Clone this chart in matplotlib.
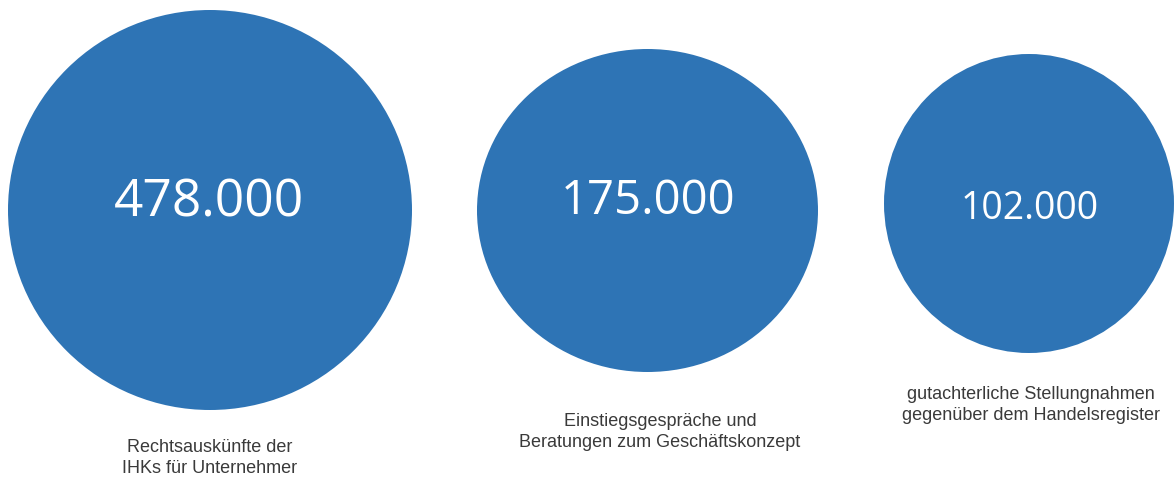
import matplotlib.pyplot as plt
from matplotlib.patches import Ellipse

# data
values = [478000, 175000, 102000]
labels = ["Rechtsauskünfte der\nIHKs für Unternehmer",
          "Einstiegsgespräche und\nBeratungen zum Geschäftskonzept",
          "gutachterliche Stellungnahmen\ngegenüber dem Handelsregister"]

# layout in pixel coords (x, y, width, height)
bubbles = [(210, 211, 404, 400), (647.5, 211.5, 341, 323), (1029, 204.5, 290, 299)]
num_pos = [(209, 203), (648, 201), (1030, 209)]
num_size = [37, 34, 27]
lab_pos = [(210, 458), (660, 432), (1031, 405)]

blue = "#2E74B5"

fig = plt.figure(figsize=(11.74, 4.81), dpi=100)
ax = fig.add_axes([0, 0, 1, 1])
ax.set_xlim(0, 1174)
ax.set_ylim(481, 0)
ax.axis("off")

for i, v in enumerate(values):
    x, y, w, h = bubbles[i]
    ax.add_patch(Ellipse((x, y), w, h, facecolor=blue, edgecolor="none"))
    txt = f"{v:,}".replace(",", ".")
    ax.text(num_pos[i][0], num_pos[i][1], txt, color="white", fontsize=num_size[i],
            family="Open Sans", ha="center", va="center")
    ax.text(lab_pos[i][0], lab_pos[i][1], labels[i], color="#3a3a3a", fontsize=13,
            family="Liberation Sans", ha="center", va="center", linespacing=1.25)

fig.savefig("out.png", dpi=100)
